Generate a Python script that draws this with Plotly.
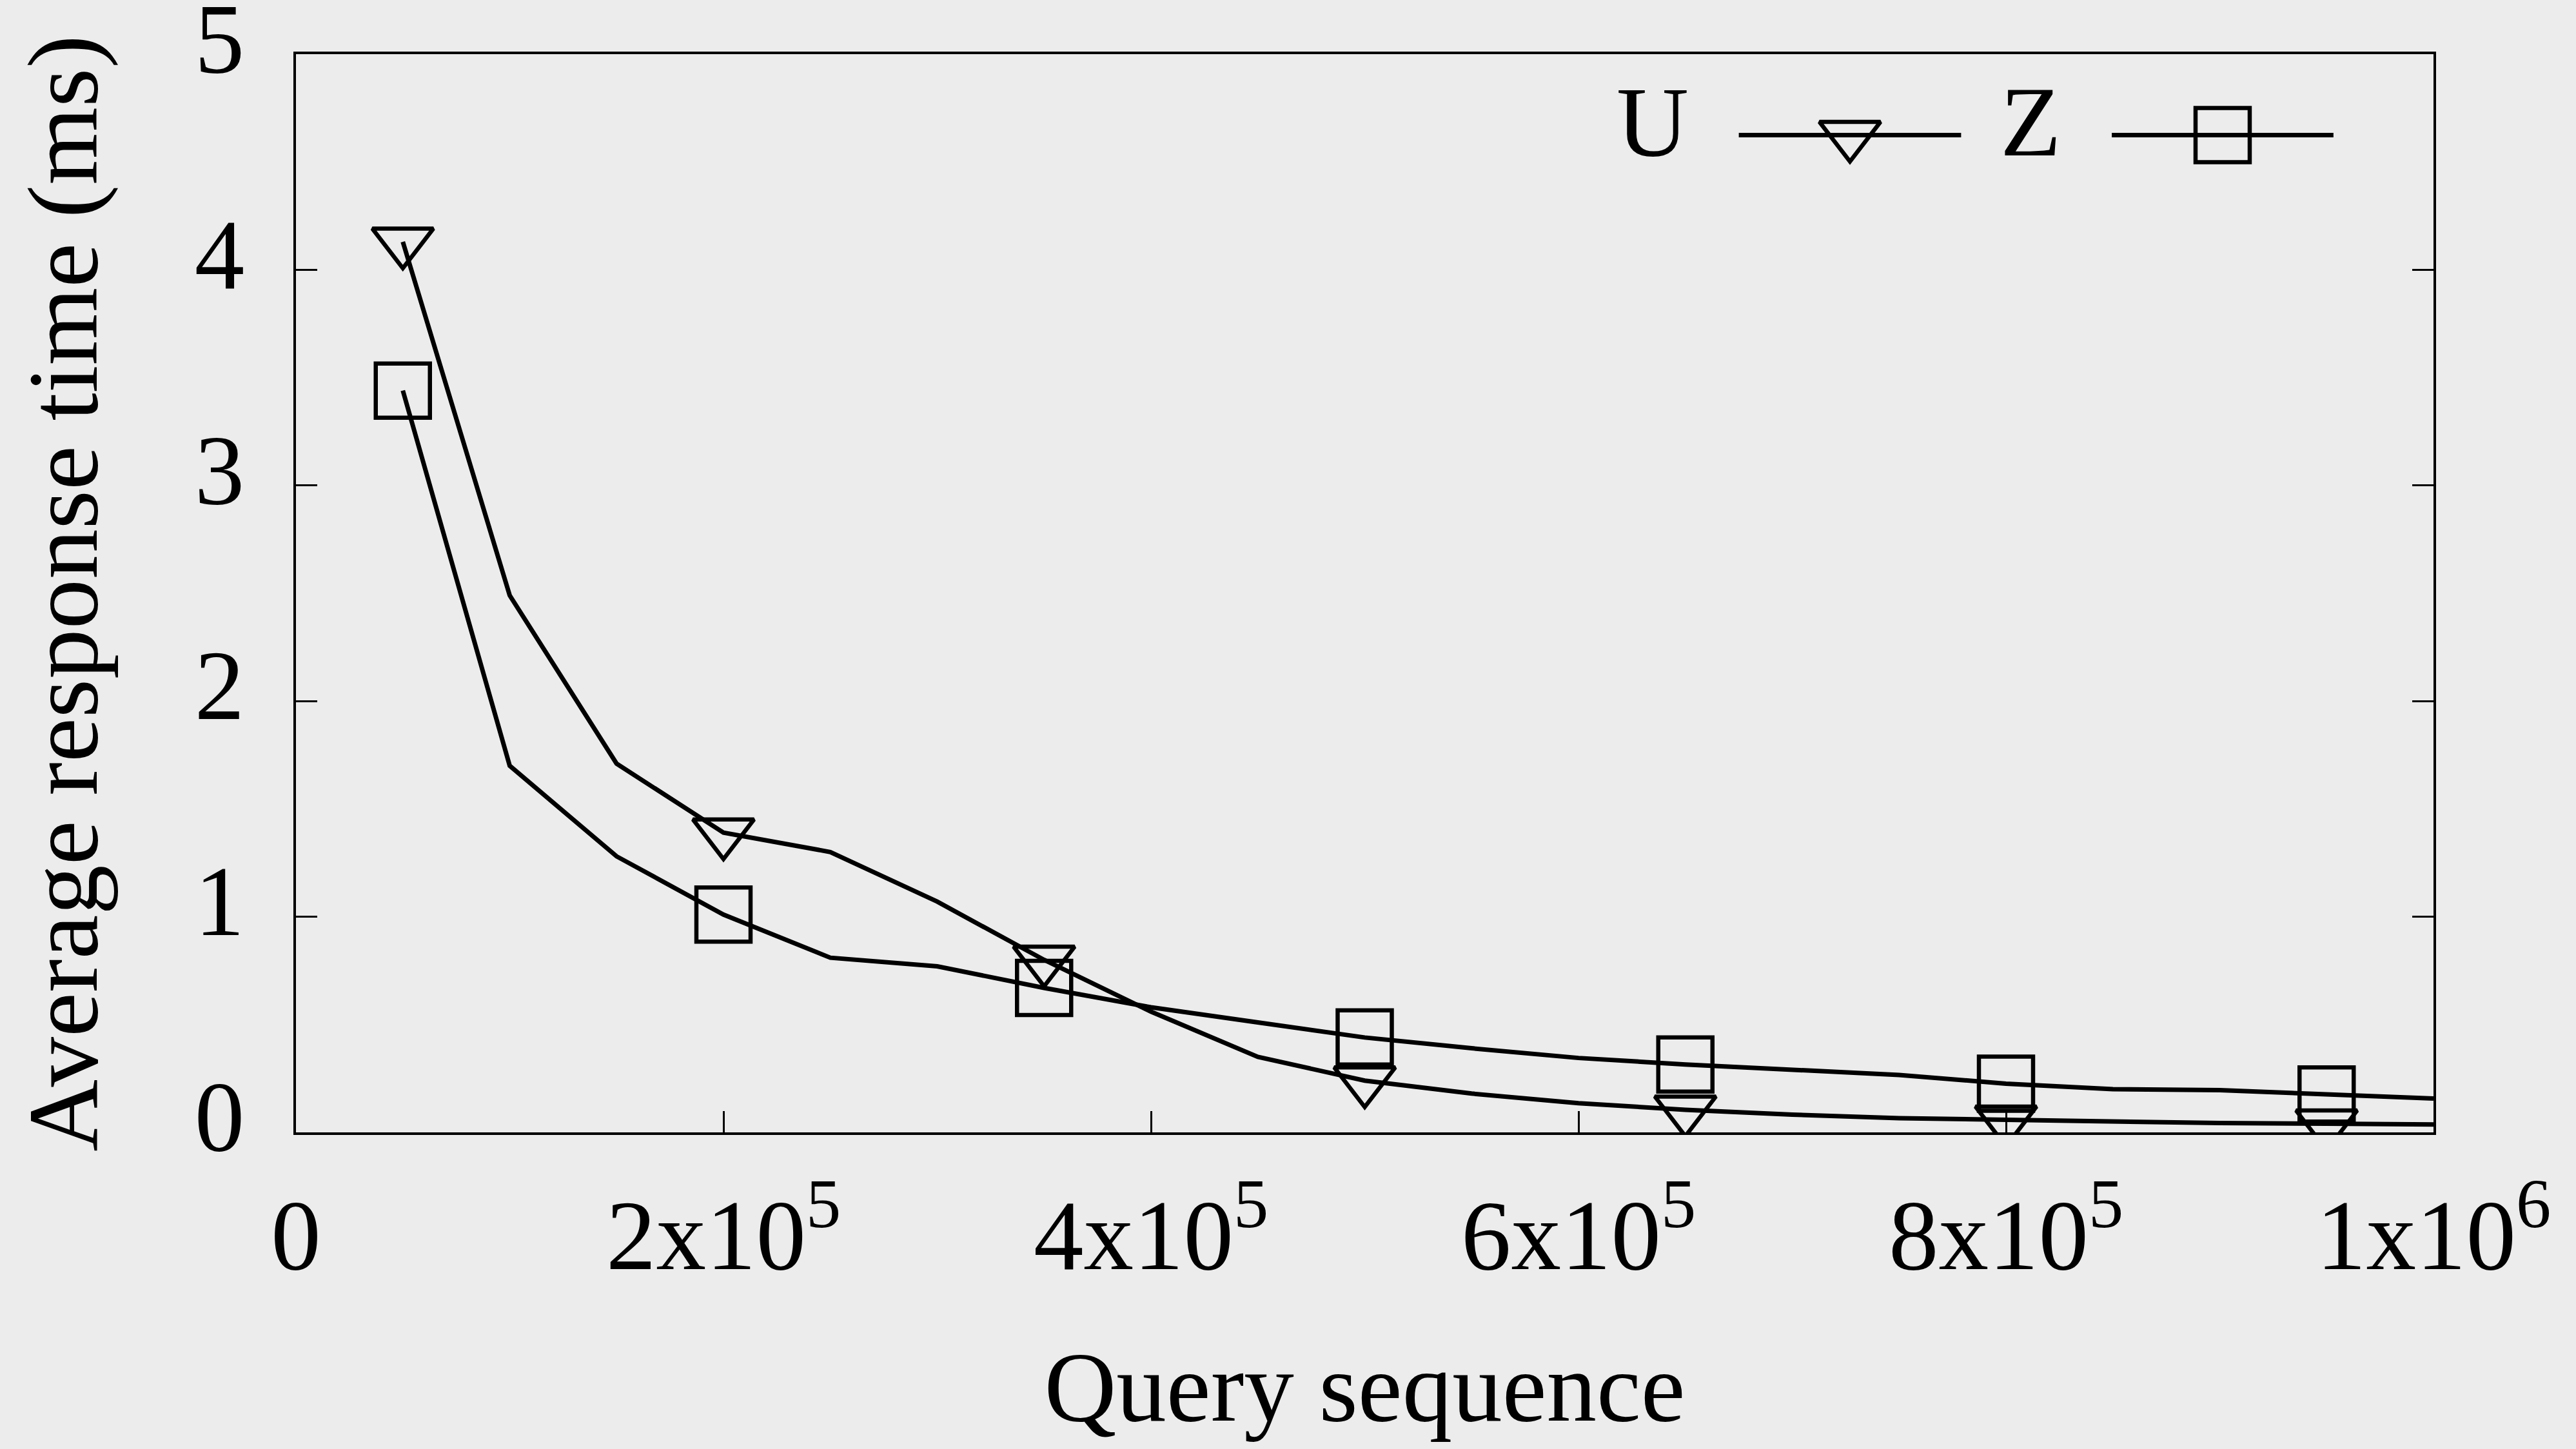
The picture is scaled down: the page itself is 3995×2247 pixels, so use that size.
import numpy as np
import plotly.graph_objects as go

# ---- data ----
query_seq = [50000, 100000, 150000, 200000, 250000, 300000, 350000, 400000, 450000, 500000,
             550000, 600000, 650000, 700000, 750000, 800000, 850000, 900000, 950000, 1000000]
u_time = [4.13, 2.49, 1.71, 1.39, 1.30, 1.07, 0.80, 0.56, 0.35, 0.24,
          0.18, 0.135, 0.105, 0.082, 0.066, 0.058, 0.05, 0.043, 0.040, 0.037]
z_time = [3.44, 1.70, 1.28, 1.01, 0.81, 0.77, 0.67, 0.58, 0.51, 0.44,
          0.39, 0.345, 0.315, 0.29, 0.266, 0.226, 0.20, 0.196, 0.176, 0.157]
series_names = ["U", "Z"]
x_tickvals = [0, 200000, 400000, 600000, 800000, 1000000]
x_ticktext = ["0", "2x10<sup>5</sup>", "4x10<sup>5</sup>", "6x10<sup>5</sup>",
              "8x10<sup>5</sup>", "1x10<sup>6</sup>"]
y_tickvals = [0, 1, 2, 3, 4, 5]
x_title = "Query sequence"
y_title = "Average response time (ms)"

# ---- style ----
W, H = 3995, 2247
L, R, T, B = 459, 221, 84, 491
BG = "#ececec"
FONT = "'Liberation Serif', 'Times New Roman', Times, serif"
FS = 155
LW = 7
MLW = 6.5
symbols = ["triangle-down-open", "square-open"]
msizes = [82, 84]
every = 3

fig = go.Figure()
xs = np.array(query_seq)
for name, ys, sym, ms in zip(series_names, [u_time, z_time], symbols, msizes):
    ys = np.array(ys)
    fig.add_trace(go.Scatter(x=xs, y=ys, mode="lines", line=dict(color="black", width=LW),
                             showlegend=False, name=name))
    fig.add_trace(go.Scatter(x=xs[::every], y=ys[::every], mode="markers",
                             marker=dict(symbol=sym, size=ms, color="black",
                                         line=dict(color="black", width=MLW)),
                             showlegend=False, name=name))

# ---- legend keys (on an overlay axis spanning the plot area, 0..1) ----
leg_y = 0.925
leg_lines = [(0.675, 0.779), (0.8495, 0.9532)]
leg_text_x = [0.6347, 0.8115]
for (x0, x1), sym, ms, name, tx in zip(leg_lines, symbols, msizes, series_names, leg_text_x):
    fig.add_trace(go.Scatter(x=[x0, x1], y=[leg_y, leg_y], mode="lines",
                             line=dict(color="black", width=LW), xaxis="x2", yaxis="y2",
                             showlegend=False, hoverinfo="skip"))
    fig.add_trace(go.Scatter(x=[(x0 + x1) / 2], y=[leg_y], mode="markers",
                             marker=dict(symbol=sym, size=ms, color="black",
                                         line=dict(color="black", width=MLW)),
                             xaxis="x2", yaxis="y2", showlegend=False, hoverinfo="skip"))
    fig.add_annotation(x=tx, y=0.937, xref="paper", yref="paper", text=name,
                       showarrow=False, xanchor="center", yanchor="middle",
                       font=dict(family=FONT, size=FS, color="black"))

axis_common = dict(showgrid=False, zeroline=False, showline=True, linecolor="black",
                   linewidth=3.5, ticks="inside", ticklen=33, tickwidth=2.5, tickcolor="black",
                   tickfont=dict(family=FONT, size=FS, color="black"))

fig.update_layout(
    width=W, height=H,
    margin=dict(l=L, r=R, t=T, b=B, autoexpand=False),
    paper_bgcolor=BG, plot_bgcolor=BG,
    showlegend=False,
    xaxis=dict(range=[0, 1000000], tickvals=x_tickvals, ticktext=x_ticktext, mirror=True,
               title=dict(text=x_title, font=dict(family=FONT, size=FS, color="black"), standoff=95),
               ticklabelstandoff=22, ticklabeloverflow="allow",
               **axis_common),
    yaxis=dict(range=[0, 5], tickvals=y_tickvals, mirror="ticks",
               title=dict(text=y_title, font=dict(family=FONT, size=FS, color="black"), standoff=100),
               ticklabelstandoff=45, ticklabelshift=-26, ticklabeloverflow="allow",
               **axis_common),
    xaxis2=dict(range=[0, 1], overlaying="x", visible=False, fixedrange=True),
    yaxis2=dict(range=[0, 1], overlaying="y", visible=False, fixedrange=True),
)

fig.write_html("out.html", config={"displayModeBar": False},
               post_script="document.body.style.margin='0';document.body.style.padding='0';")
